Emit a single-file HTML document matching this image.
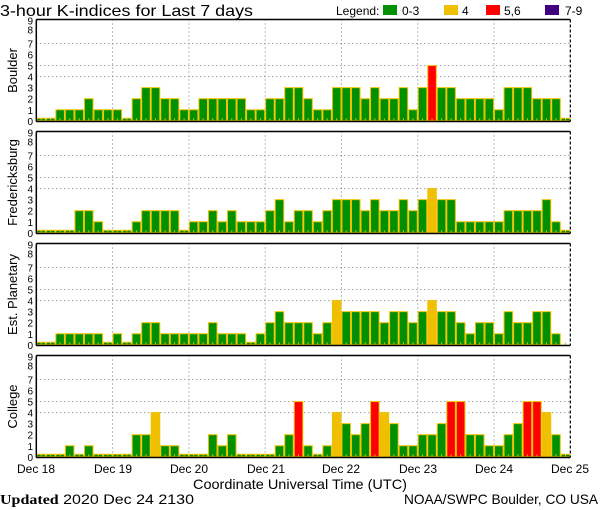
<!DOCTYPE html>
<html><head><meta charset="utf-8"><style>
html,body{margin:0;padding:0;background:#fff;width:600px;height:510px;overflow:hidden}
svg{display:block}
text{font-family:"Liberation Sans",sans-serif;fill:#000}
</style></head><body>
<svg id="s" width="600" height="510" viewBox="0 0 600 510" xmlns="http://www.w3.org/2000/svg">
<text x="0" y="16" font-size="16" textLength="253" lengthAdjust="spacingAndGlyphs">3-hour K-indices for Last 7 days</text>
<text x="336" y="15" font-size="12">Legend:</text>
<rect x="383" y="5" width="14" height="10" fill="#009000"/><text x="402" y="15" font-size="12">0-3</text>
<rect x="444" y="5" width="14" height="10" fill="#f0c000"/><text x="462" y="15" font-size="12">4</text>
<rect x="486" y="5" width="14" height="10" fill="#ff0000"/><text x="504" y="15" font-size="12">5,6</text>
<rect x="545" y="5" width="14" height="10" fill="#400080"/><text x="565" y="15" font-size="12">7-9</text>
<g font-size="12" text-anchor="middle">
<text x="36" y="473">Dec 18</text><text x="113" y="473">Dec 19</text><text x="189" y="473">Dec 20</text><text x="266" y="473">Dec 21</text><text x="341" y="473">Dec 22</text><text x="418" y="473">Dec 23</text><text x="494" y="473">Dec 24</text><text x="570" y="473">Dec 25</text>
<text x="300" y="489" font-size="14" textLength="214" lengthAdjust="spacingAndGlyphs">Coordinate Universal Time (UTC)</text>
</g>
<text x="0" y="504" font-size="14" textLength="194" lengthAdjust="spacingAndGlyphs"><tspan font-family="Liberation Serif" font-weight="bold">Updated</tspan> 2020 Dec 24 2130</text>
<text x="598" y="504" font-size="14" text-anchor="end" textLength="194" lengthAdjust="spacingAndGlyphs">NOAA/SWPC Boulder, CO USA</text>
</svg>
<script>
var data=[
["Boulder",[0,0,1,1,1,2,1,1, 1,0,2,3,3,2,2,1, 1,2,2,2,2,2,1,1, 2,2,3,3,2,1,1,3, 3,3,2,3,2,2,3,1, 3,5,3,3,2,2,2,2, 1,3,3,3,2,2,2,0]],
["Fredericksburg",[0,0,0,0,2,2,1,0, 0,0,1,2,2,2,2,0, 1,1,2,1,2,1,1,1, 2,3,1,2,2,1,2,3, 3,3,2,3,2,2,3,2, 3,4,3,3,1,1,1,1, 1,2,2,2,2,3,1,0]],
["Est. Planetary",[0,0,1,1,1,1,1,0, 1,0,1,2,2,1,1,1, 1,1,2,1,1,1,0,1, 2,3,2,2,2,1,2,4, 3,3,3,3,2,3,3,2, 3,4,3,3,2,1,2,2, 1,3,2,2,3,3,1,null]],
["College",[0,0,0,1,0,1,0,0, 0,0,2,2,4,1,1,0, 0,0,2,1,2,0,0,0, 0,1,2,5,1,0,1,4, 3,2,3,5,4,3,1,1, 2,2,3,5,5,2,2,1, 1,2,3,5,5,4,2,0]]];
var s=document.getElementById('s'),h="";
var x0=36.3,bw=9.536,x1=x0+56*bw,U=11.05;
data.forEach(function(d,p){
 var T=19.5+p*112,B=T+102,Z=B-0.7;
 [4,5,7].forEach(function(k){var y=Z-k*U;h+='<line x1="'+x0+'" x2="'+x1+'" y1="'+y+'" y2="'+y+'" stroke="#777" stroke-dasharray="1,3"/>';});
 for(var dd=1;dd<7;dd++){var x=x0+dd*8*bw;h+='<line x1="'+x+'" x2="'+x+'" y1="'+T+'" y2="'+B+'" stroke="#777" stroke-dasharray="1,3"/>';}
 d[1].forEach(function(v,i){
  var x=x0+i*bw;
  if(v!==null){
   var c=v<=3?"#009000":v==4?"#f0c000":v<=6?"#ff0000":"#400080";
   var ht=v==0?2.5:v*U;
   h+='<rect x="'+(x+0.5)+'" y="'+(Z-ht)+'" width="'+(bw-1)+'" height="'+ht+'" fill="'+c+'" stroke="#f0c000" stroke-width="1"/>';
  }
  h+='<line x1="'+(x+bw/2)+'" x2="'+(x+bw/2)+'" y1="'+(B-3)+'" y2="'+B+'" stroke="#f0c000"/>';
 });
 h+='<line x1="'+x0+'" x2="'+x1+'" y1="'+T+'" y2="'+T+'" stroke="#000" stroke-width="1.5"/>';
 h+='<line x1="'+x0+'" x2="'+x1+'" y1="'+B+'" y2="'+B+'" stroke="#000" stroke-width="1.5"/>';
 h+='<line x1="'+x0+'" x2="'+x0+'" y1="'+T+'" y2="'+B+'" stroke="#000" stroke-width="1.5"/>';
 h+='<line x1="'+x1+'" x2="'+x1+'" y1="'+T+'" y2="'+B+'" stroke="#000" stroke-width="1.2" stroke-dasharray="3,2"/>';
 for(var k=0;k<=9;k++){var y=Z-k*U+(k==9?3:k==8?1:4);h+='<text x="33" y="'+y+'" font-size="10" text-anchor="end">'+k+'</text>';}
 var cy=(T+B)/2;
 h+='<text x="0" y="0" font-size="13" text-anchor="middle" transform="translate(17,'+cy+') rotate(-90)">'+d[0]+'</text>';
});
s.insertAdjacentHTML('beforeend',h);
</script>
</body></html>
